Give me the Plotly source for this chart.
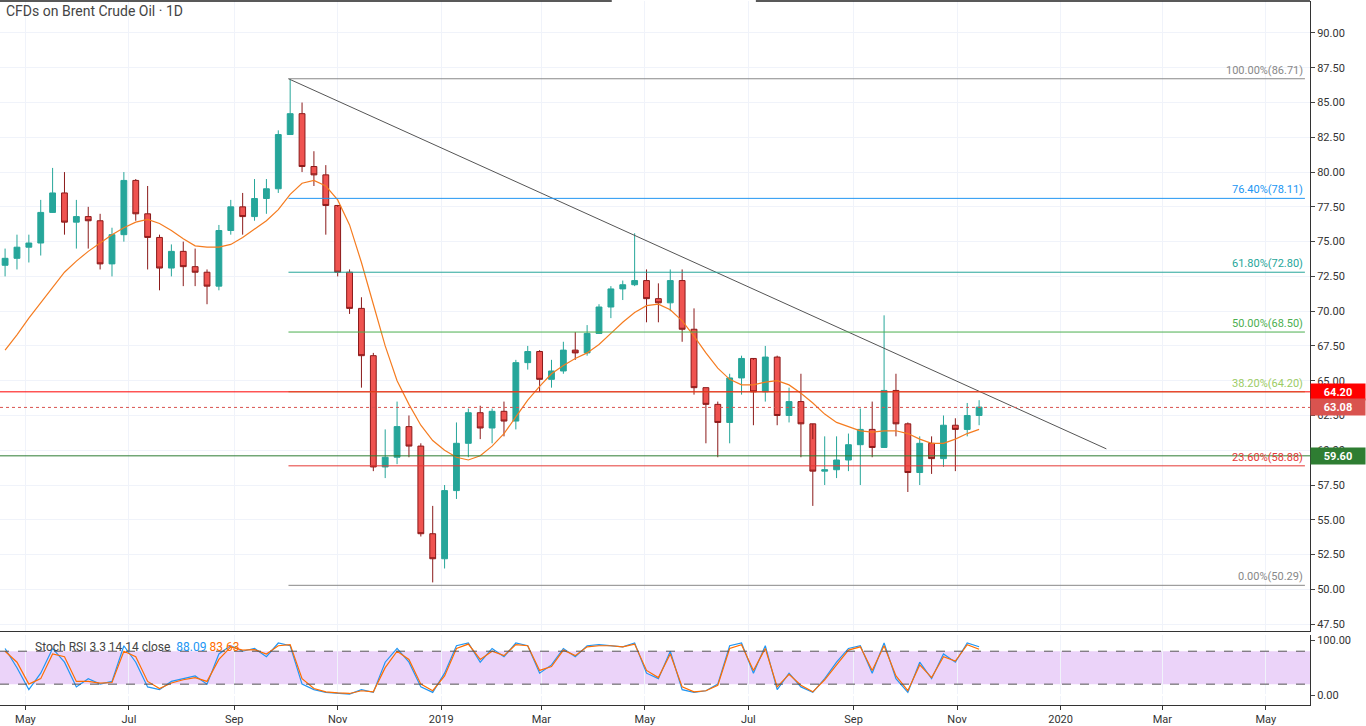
import pandas as pd
import plotly.graph_objects as go

week_start = "2018-04-19"
closes = [73.8,74.6,74.9,77.1,78.5,76.4,76.8,76.5,73.4,75.5,79.4,77.0,75.3,73.1,74.3,73.2,72.8,71.8,75.8,77.5,
          76.8,78.1,78.8,82.7,84.2,80.4,79.8,77.6,72.8,70.2,66.8,58.8,59.5,61.7,60.3,54.0,52.2,57.1,60.5,62.7,
          61.6,62.8,62.1,66.3,67.1,65.1,65.7,67.2,67.0,68.4,70.3,71.6,71.9,72.2,70.9,70.6,72.2,68.7,64.5,63.3,
          62.0,65.2,66.6,64.2,66.7,62.5,63.5,61.9,58.5,58.6,59.3,60.4,61.5,60.2,64.3,61.9,58.4,60.5,59.4,61.8,
          61.5,62.5,63.1]
highs = [74.5,75.5,75.5,78.0,80.3,80.0,78.0,77.5,77.0,76.0,80.0,79.5,79.0,75.5,74.8,75.0,74.5,73.0,76.2,78.0,
         78.5,79.5,79.5,83.0,86.7,85.0,81.5,80.5,77.5,73.0,71.0,67.0,61.5,63.5,62.5,60.5,56.0,57.5,62.0,63.0,
         63.2,63.0,63.5,66.5,67.5,67.2,66.5,67.8,68.5,69.0,70.5,71.8,72.2,75.6,73.0,72.0,73.0,73.0,70.2,64.5,
         63.5,65.5,66.8,66.5,67.5,66.8,64.5,65.5,60.8,61.0,61.0,61.2,63.0,63.5,69.7,65.5,62.0,61.0,61.0,62.5,
         62.3,63.4,63.6]
lows = [72.5,73.0,73.5,74.0,77.5,75.5,74.5,74.5,73.0,72.5,75.0,76.5,73.0,71.5,72.5,71.8,71.8,70.5,71.5,75.5,
        75.5,76.5,77.0,78.5,83.5,80.0,79.0,75.5,72.5,69.8,64.5,58.5,58.0,59.0,59.5,53.8,50.5,51.5,56.5,59.5,
        60.8,60.5,61.0,61.5,65.8,64.2,64.5,65.5,66.5,66.8,68.5,69.5,70.8,71.8,69.2,69.2,70.0,67.8,64.0,60.5,
        59.5,60.5,64.0,61.8,63.5,61.8,62.0,59.5,56.0,57.5,58.0,58.5,57.5,59.5,63.0,61.0,57.0,57.5,58.3,58.8,
        58.5,61.0,61.8]
ma = [67.2,68.3,69.5,70.6,71.7,72.8,73.6,74.3,74.9,75.5,76.0,76.4,76.6,76.3,75.8,75.2,74.7,74.6,74.6,74.8,
      75.3,75.9,76.5,77.3,78.4,79.2,79.4,79.0,78.0,76.2,73.5,70.5,67.5,65.0,63.3,61.8,60.7,60.0,59.5,59.3,
      59.6,60.3,61.2,62.4,63.6,64.6,65.5,66.1,66.6,67.0,67.6,68.4,69.2,69.9,70.4,70.5,70.1,69.3,68.2,67.0,
      65.9,65.1,64.7,64.7,64.9,65.0,64.7,64.1,63.4,62.6,62.0,61.7,61.4,61.3,61.4,61.4,61.2,60.8,60.5,60.5,
      60.8,61.2,61.5]
stoch_k = [85,50,10,40,85,60,15,30,20,25,90,60,15,10,25,30,35,20,75,90,80,85,70,95,90,20,10,5,3,2,
           10,5,60,85,60,15,5,40,90,95,60,85,70,95,90,40,55,85,70,90,92,90,88,95,40,30,80,10,5,8,
           20,90,95,40,90,10,40,15,5,30,60,85,90,40,95,30,5,60,30,75,60,95,88.09]
stoch_d = [80,60,20,30,75,70,25,25,22,23,80,70,25,12,22,28,32,25,65,88,82,83,75,90,92,30,12,6,4,3,
           8,6,50,80,65,20,8,35,85,93,65,80,72,92,90,45,52,82,72,88,90,90,88,93,45,32,75,15,6,8,
           18,85,92,45,85,15,38,18,6,28,55,82,88,45,90,35,8,55,32,70,62,92,83.63]
fib_pct = ["100.00%", "76.40%", "61.80%", "50.00%", "38.20%", "23.60%", "0.00%"]
fib_lvl = [86.71, 78.11, 72.80, 68.50, 64.20, 58.88, 50.29]
fib_col = ["#888888", "#2196f3", "#26a69a", "#4caf50", "#9ccc65", "#e53935", "#888888"]
fib_start = "2018-10-03"
fib_end = "2020-05-24"
trend_x = ["2018-10-03", "2020-01-28"]
trend_y = [86.71, 60.1]
hlines = [64.20, 59.60, 63.08]
hcol = ["#ff0000", "#2e7d32", "#d9534f"]
xticks = ["2018-05-01","2018-07-01","2018-09-01","2018-11-01","2019-01-01","2019-03-01",
          "2019-05-01","2019-07-01","2019-09-01","2019-11-01","2020-01-01","2020-03-01","2020-05-01"]
xticklab = ["May","Jul","Sep","Nov","2019","Mar","May","Jul","Sep","Nov","2020","Mar","May"]

dates = pd.date_range(week_start, periods=len(closes), freq="W-THU")
opens = [closes[0] - 0.5] + closes[:-1]

fig = go.Figure()
fig.add_trace(go.Candlestick(x=dates, open=opens, high=highs, low=lows, close=closes,
    increasing=dict(line=dict(color="#26a69a", width=1), fillcolor="#26a69a"),
    decreasing=dict(line=dict(color="#8b1a1a", width=1), fillcolor="#ef5350"),
    whiskerwidth=0, showlegend=False, xaxis="x", yaxis="y"))
fig.add_trace(go.Scatter(x=dates, y=ma, mode="lines", line=dict(color="#f57c20", width=1.2),
                         showlegend=False))
fig.add_trace(go.Scatter(x=trend_x, y=trend_y, mode="lines", line=dict(color="#555555", width=1),
                         showlegend=False))

for p, l, c in zip(fib_pct, fib_lvl, fib_col):
    fig.add_trace(go.Scatter(x=[fib_start, fib_end], y=[l, l], mode="lines",
                             line=dict(color=c, width=1), showlegend=False))
    fig.add_annotation(x=fib_end, y=l, text=f"{p}({l:.2f})", showarrow=False, xanchor="right",
                       yanchor="bottom", font=dict(size=11, color=c))
for v, c in zip(hlines, hcol):
    fig.add_shape(type="line", xref="paper", x0=0, x1=1, yref="y", y0=v, y1=v,
                  line=dict(color=c, width=1, dash="dot" if v == 63.08 else "solid"))
    fig.add_annotation(xref="paper", x=1.0, y=v, yref="y", text=f"<b>{v:.2f}</b>", showarrow=False,
                       xanchor="left", bgcolor=c, font=dict(color="white", size=11),
                       width=54, height=16, borderpad=0)

# stochastic RSI pane
fig.add_shape(type="rect", xref="paper", x0=0, x1=1, yref="y2", y0=20, y1=80,
              fillcolor="#e6c8f8", opacity=0.8, line_width=0, layer="below")
for v in [20, 80]:
    fig.add_shape(type="line", xref="paper", x0=0, x1=1, yref="y2", y0=v, y1=v,
                  line=dict(color="#555", width=1, dash="dash"))
fig.add_trace(go.Scatter(x=dates, y=stoch_k, mode="lines", line=dict(color="#2196f3", width=1.2),
                         showlegend=False, xaxis="x2", yaxis="y2"))
fig.add_trace(go.Scatter(x=dates, y=stoch_d, mode="lines", line=dict(color="#ff6d00", width=1.2),
                         showlegend=False, xaxis="x2", yaxis="y2"))
fig.add_annotation(xref="paper", yref="paper", x=0.025, y=0.07, xanchor="left", showarrow=False,
                   text="Stoch RSI 3 3 14 14 close  <span style='color:#2196f3'>88.09</span> "
                        "<span style='color:#ff6d00'>83.63</span>",
                   font=dict(size=12, color="#444"))
fig.add_annotation(xref="paper", yref="paper", x=0.003, y=1.0, xanchor="left", yanchor="top",
                   showarrow=False, text="CFDs on Brent Crude Oil · 1D", font=dict(size=14, color="#444"))

grid = "#f0f3fa"
xr = ["2018-04-16", "2020-05-27"]
axfont = dict(size=11, color="#333")
fig.update_layout(
    width=1366, height=726, margin=dict(l=0, r=56, t=0, b=20),
    plot_bgcolor="white", paper_bgcolor="white",
    font=dict(family="Roboto, Lato, sans-serif"),
    xaxis=dict(range=xr, showgrid=True, gridcolor=grid, rangeslider_visible=False, tickvals=xticks,
               showticklabels=False, anchor="y", showline=True, linecolor="#333"),
    xaxis2=dict(range=xr, showgrid=True, gridcolor=grid, tickvals=xticks, ticktext=xticklab,
                matches="x", anchor="y2", showline=True, linecolor="#333", ticks="outside",
                ticklen=4, tickcolor="#333", tickfont=axfont),
    yaxis=dict(domain=[0.105, 1], side="right", range=[47.0, 92.3],
               tickvals=[47.5 + 2.5 * i for i in range(18)], tickformat=".2f", showgrid=True,
               gridcolor=grid, showline=True, linecolor="#333", ticks="outside", ticklen=4,
               tickfont=axfont, anchor="x"),
    yaxis2=dict(domain=[0, 0.099], side="right", range=[-18, 109], tickvals=[0, 100],
                tickformat=".2f", showgrid=False, showline=True, linecolor="#333", ticks="outside",
                ticklen=4, tickfont=axfont, anchor="x2"),
)
fig.add_shape(type="line", xref="paper", yref="paper", x0=0, x1=0.467, y0=1, y1=1,
              line=dict(color="#222", width=1.5))
fig.add_shape(type="line", xref="paper", yref="paper", x0=0.577, x1=1.0, y0=1, y1=1,
              line=dict(color="#222", width=1.5))
fig.write_html("out.html", config={"displayModeBar": False},
               post_script="document.body.style.margin='0';")
